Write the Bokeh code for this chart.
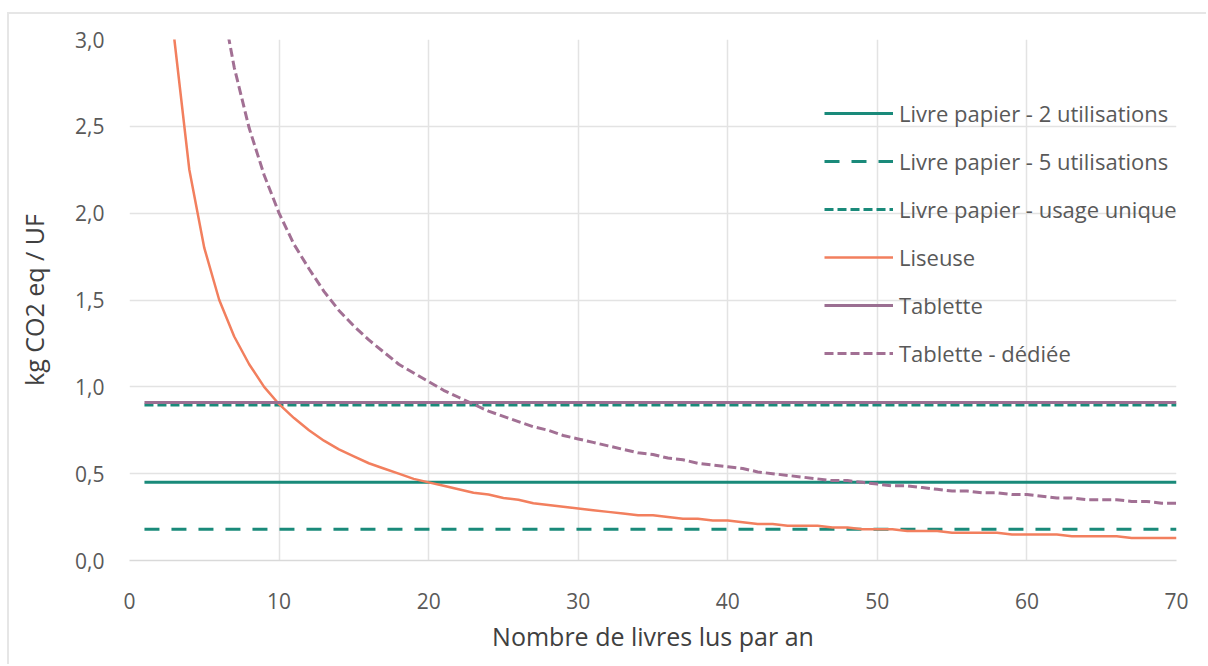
from bokeh.plotting import figure
from bokeh.models import Range1d, Legend, LegendItem, CustomJSTickFormatter, FixedTicker
from bokeh.embed import file_html
from bokeh.resources import INLINE

# ---- data ----
livres = list(range(1, 71))

livre_2_util = [0.45] * 70
livre_5_util = [0.18] * 70
livre_unique = [0.895] * 70
tablette = [0.91] * 70

liseuse = [9.00, 4.50, 3.00, 2.25, 1.80, 1.50, 1.29, 1.13, 1.00, 0.90,
           0.82, 0.75, 0.69, 0.64, 0.60, 0.56, 0.53, 0.50, 0.47, 0.45,
           0.43, 0.41, 0.39, 0.38, 0.36, 0.35, 0.33, 0.32, 0.31, 0.30,
           0.29, 0.28, 0.27, 0.26, 0.26, 0.25, 0.24, 0.24, 0.23, 0.23,
           0.22, 0.21, 0.21, 0.20, 0.20, 0.20, 0.19, 0.19, 0.18, 0.18,
           0.18, 0.17, 0.17, 0.17, 0.16, 0.16, 0.16, 0.16, 0.15, 0.15,
           0.15, 0.15, 0.14, 0.14, 0.14, 0.14, 0.13, 0.13, 0.13, 0.13]

tablette_dediee = [19.55, 9.80, 6.55, 4.93, 3.95, 3.30, 2.84, 2.49, 2.22, 2.00,
                   1.82, 1.68, 1.55, 1.44, 1.35, 1.27, 1.20, 1.13, 1.08, 1.03,
                   0.98, 0.94, 0.90, 0.86, 0.83, 0.80, 0.77, 0.75, 0.72, 0.70,
                   0.68, 0.66, 0.64, 0.62, 0.61, 0.59, 0.58, 0.56, 0.55, 0.54,
                   0.53, 0.51, 0.50, 0.49, 0.48, 0.47, 0.46, 0.46, 0.45, 0.44,
                   0.43, 0.43, 0.42, 0.41, 0.40, 0.40, 0.39, 0.39, 0.38, 0.38,
                   0.37, 0.36, 0.36, 0.35, 0.35, 0.35, 0.34, 0.34, 0.33, 0.33]

x_ticks = [0, 10, 20, 30, 40, 50, 60, 70]
y_ticks = [0.0, 0.5, 1.0, 1.5, 2.0, 2.5, 3.0]

TEAL = "#1a8a7a"
ORANGE = "#f27f5e"
PURPLE = "#9b6f92"
PURPLE_D = "#a27094"
FONT = "Open Sans"

p = figure(width=1199, height=652, output_backend="svg", toolbar_location=None,
           x_range=Range1d(0, 70), y_range=Range1d(0, 3.0),
           min_border_left=120, min_border_right=32, min_border_top=25,
           min_border_bottom=106)
p.margin = (12, 0, 0, 7)
p.styles = {"border-top": "2px solid #e6e6e6", "border-left": "2px solid #e6e6e6"}
p.outline_line_color = None
p.background_fill_color = "white"
p.border_fill_color = "white"

r1 = p.line(livres, livre_2_util, line_color=TEAL, line_width=3)
r2 = p.line(livres, livre_5_util, line_color=TEAL, line_width=3, line_dash="15 12")
r3 = p.line(livres, livre_unique, line_color=TEAL, line_width=3, line_dash="9 4")
r4 = p.line(livres, liseuse, line_color=ORANGE, line_width=2.5)
r5 = p.line(livres, tablette, line_color=PURPLE, line_width=3)
r6 = p.line(livres, tablette_dediee, line_color=PURPLE_D, line_width=3, line_dash="9 4")

# axes
p.xaxis.ticker = FixedTicker(ticks=x_ticks)
p.yaxis.ticker = FixedTicker(ticks=y_ticks)
p.yaxis.formatter = CustomJSTickFormatter(code="return tick.toFixed(1).replace('.', ',');")
for ax in (p.xaxis[0], p.yaxis[0]):
    ax.major_label_text_font = FONT
    ax.major_label_text_font_size = "21px"
    ax.major_label_text_color = "#595959"
    ax.axis_label_text_font = FONT
    ax.axis_label_text_font_size = "25px"
    ax.axis_label_text_color = "#404040"
    ax.axis_label_text_font_style = "normal"
    ax.major_tick_line_color = None
    ax.minor_tick_line_color = None
p.xaxis.axis_label = "Nombre de livres lus par an"
p.yaxis.axis_label = "kg CO2 eq / UF"
p.xaxis.axis_line_color = "#d9d9d9"
p.xaxis.axis_line_width = 1.5
p.yaxis.axis_line_color = None
p.xaxis.major_label_standoff = 26
p.yaxis.major_label_standoff = 19
p.xaxis.axis_label_standoff = 7
p.yaxis.axis_label_standoff = 21

p.xgrid.grid_line_color = "#e3e3e3"
p.ygrid.grid_line_color = "#e3e3e3"
p.xgrid.grid_line_width = 1.5
p.ygrid.grid_line_width = 1.5

legend = Legend(items=[
    LegendItem(label="Livre papier - 2 utilisations", renderers=[r1]),
    LegendItem(label="Livre papier - 5 utilisations", renderers=[r2]),
    LegendItem(label="Livre papier - usage unique", renderers=[r3]),
    LegendItem(label="Liseuse", renderers=[r4]),
    LegendItem(label="Tablette", renderers=[r5]),
    LegendItem(label="Tablette - dédiée", renderers=[r6]),
], location=(695, 192))
legend.background_fill_alpha = 0
legend.border_line_color = None
legend.padding = 0
legend.margin = 0
legend.glyph_width = 69
legend.glyph_height = 30
legend.label_height = 30
legend.spacing = 18
legend.label_standoff = 6
legend.label_text_font = FONT
legend.label_text_font_size = "22px"
legend.label_text_color = "#595959"
p.add_layout(legend)

open("out.html", "w").write(file_html(p, INLINE))
